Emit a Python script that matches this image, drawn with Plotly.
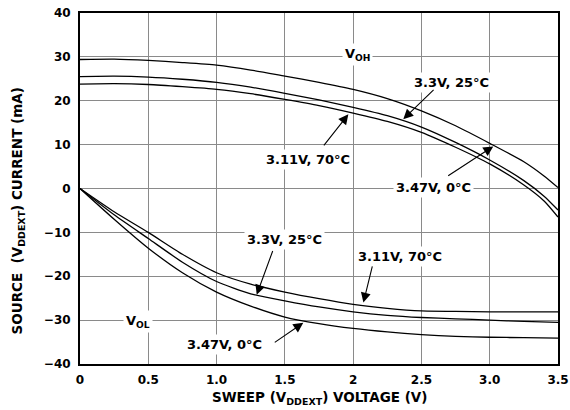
import plotly.graph_objects as go

# ---- data ----
voh_x = [0, 0.25, 0.5, 0.75, 1.0, 1.25, 1.5, 1.75, 2.0, 2.25, 2.5, 2.75, 3.0, 3.25, 3.4, 3.5]
voh_347v_0c = [29.4, 29.5, 29.2, 28.7, 28.1, 27.0, 25.6, 24.2, 22.6, 20.5, 17.7, 14.3, 10.3, 6.1, 2.8, 0.2]
voh_33v_25c = [25.5, 25.6, 25.4, 24.9, 24.2, 23.1, 21.7, 20.2, 18.5, 16.6, 14.0, 10.5, 6.5, 1.8, -1.8, -4.9]
voh_311v_70c = [23.8, 23.9, 23.7, 23.2, 22.6, 21.6, 20.3, 18.9, 17.2, 15.3, 12.8, 9.4, 5.6, 0.8, -2.9, -6.5]

vol_x = [0, 0.25, 0.5, 0.75, 1.0, 1.25, 1.5, 1.75, 2.0, 2.25, 2.5, 2.75, 3.0, 3.25, 3.5]
vol_311v_70c = [0, -5.3, -10.0, -15.0, -19.2, -21.8, -23.6, -25.1, -26.4, -27.3, -27.9, -28.0, -28.1, -28.1, -28.1]
vol_33v_25c = [0, -6.0, -11.4, -16.8, -21.2, -24.0, -25.6, -27.0, -28.1, -28.9, -29.4, -29.7, -30.0, -30.3, -30.5]
vol_347v_0c = [0, -7.0, -13.6, -19.2, -23.6, -26.8, -29.3, -30.8, -31.9, -32.7, -33.3, -33.7, -33.9, -34.0, -34.1]

x_tickvals = [0, 0.5, 1.0, 1.5, 2.0, 2.5, 3.0, 3.5]
x_ticktext = ["0", "0.5", "1.0", "1.5", "2", "2.5", "3.0", "3.5"]
y_tickvals = [-40, -30, -20, -10, 0, 10, 20, 30, 40]

FONT = "DejaVu Sans"

fig = go.Figure()
for ys in [voh_347v_0c, voh_33v_25c, voh_311v_70c]:
    fig.add_trace(go.Scatter(x=voh_x, y=ys, mode="lines",
                             line=dict(color="black", width=1.3, shape="spline", smoothing=0.6),
                             showlegend=False, hoverinfo="skip"))
for ys in [vol_311v_70c, vol_33v_25c, vol_347v_0c]:
    fig.add_trace(go.Scatter(x=vol_x, y=ys, mode="lines",
                             line=dict(color="black", width=1.3, shape="spline", smoothing=0.6),
                             showlegend=False, hoverinfo="skip"))

lfont = dict(family=FONT, size=13, color="black", weight="bold")
afont = dict(family=FONT, size=13.5, color="black", weight="bold")

labels = [
    ("V<sub>OH</sub>", 2.035, 30.6),
    ("3.3V, 25°C", 2.72, 24.1),
    ("3.11V, 70°C", 1.67, 6.7),
    ("3.47V, 0°C", 2.59, 0.2),
    ("V<sub>OL</sub>", 0.425, -30.4),
    ("3.3V, 25°C", 1.50, -11.6),
    ("3.11V, 70°C", 2.34, -15.4),
    ("3.47V, 0°C", 1.06, -35.5),
]
arrows = [
    # (tail x, tail y, tip x, tip y)
    (2.60, 22.8, 2.367, 15.8),
    (1.777, 9.5, 1.965, 16.9),
    (2.685, 2.7, 3.026, 9.6),
    (1.415, -13.9, 1.294, -24.2),
    (2.143, -17.4, 2.075, -26.0),
    (1.415, -35.3, 1.635, -30.6),
]

annotations = []
for txt, x, y in labels:
    annotations.append(dict(x=x, y=y, xref="x", yref="y", text=txt, showarrow=False,
                            font=lfont, bgcolor="white", borderpad=2,
                            xanchor="center", yanchor="middle"))
for ax, ay, x, y in arrows:
    annotations.append(dict(x=x, y=y, ax=ax, ay=ay, xref="x", yref="y", axref="x", ayref="y",
                            text="", showarrow=True, arrowhead=2, arrowsize=1.8,
                            arrowwidth=1.1, arrowcolor="black", standoff=0, startstandoff=0))

# axis titles
annotations.append(dict(x=-0.13, y=0.437, xref="paper", yref="paper",
                        text="SOURCE\u00a0\u00a0(V<sub>DDEXT</sub>) CURRENT (mA)",
                        textangle=-90, showarrow=False, font=afont,
                        xanchor="center", yanchor="middle"))
annotations.append(dict(x=0.5, y=-0.098, xref="paper", yref="paper",
                        text="SWEEP (V<sub>DDEXT</sub>) VOLTAGE (V)",
                        showarrow=False, font=afont,
                        xanchor="center", yanchor="middle"))

fig.update_layout(
    width=570, height=410,
    margin=dict(l=80, r=12, t=13, b=46, autoexpand=False),
    paper_bgcolor="white", plot_bgcolor="white",
    font=dict(family=FONT, size=12, color="black"),
    annotations=annotations,
    showlegend=False,
)
tick_font = dict(family=FONT, size=12, color="black", weight="bold")
fig.update_xaxes(range=[0, 3.5], tickvals=x_tickvals, ticktext=x_ticktext,
                 showgrid=True, gridcolor="#8a8a8a", gridwidth=1,
                 showline=True, linecolor="black", linewidth=2, mirror=True,
                 zeroline=False, ticks="", ticklabelstandoff=4, automargin=False,
                 ticklabeloverflow="allow", tickfont=tick_font)
fig.update_yaxes(range=[-40, 40], tickvals=y_tickvals,
                 showgrid=True, gridcolor="#8a8a8a", gridwidth=1,
                 showline=True, linecolor="black", linewidth=2, mirror=True,
                 zeroline=False, ticks="", ticklabelstandoff=5, automargin=False,
                 ticklabeloverflow="allow", tickfont=tick_font)

fig.write_html("out.html",
               config={"displayModeBar": False},
               post_script="document.body.style.margin='0';document.body.style.overflow='hidden';")
